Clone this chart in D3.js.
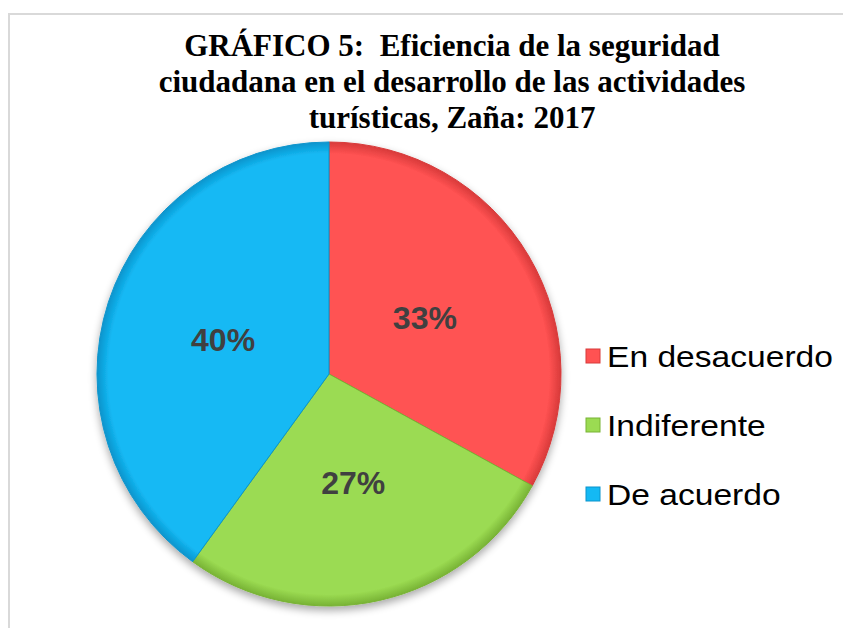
<!DOCTYPE html>
<html>
<head>
<meta charset="utf-8">
<script src="https://cdn.jsdelivr.net/npm/d3@7"></script>
<style>
  body { margin: 0; background: #fff; }
  svg { display: block; }
</style>
</head>
<body>
<div id="chart"></div>
<script>
// data
const categories = ["En desacuerdo", "Indiferente", "De acuerdo"];
const values = [33, 27, 40];
const colors = ["#FF5252", "#9BDB52", "#14B9F4"];
const darkColors = ["#D83A3A", "#78B335", "#0A94CC"];
const titleLines = [
    "GRÁFICO 5:\u00A0 Eficiencia de la seguridad",
    "ciudadana en el desarrollo de las actividades",
    "turísticas, Zaña: 2017"
];

const width = 843, height = 628;
const cx = 329, cy = 374, radius = 232;

const svg = d3.select("#chart").append("svg")
    .attr("width", width)
    .attr("height", height);

// chart frame (only top and left visible)
svg.append("rect")
    .attr("x", 9).attr("y", 14)
    .attr("width", 900).attr("height", 700)
    .attr("fill", "none")
    .attr("stroke", "#d9d9d9")
    .attr("stroke-width", 2);

const defs = svg.append("defs");

// soft shadow under the pie
const shadow = defs.append("filter").attr("id", "shadow")
    .attr("x", "-20%").attr("y", "-20%").attr("width", "140%").attr("height", "140%");
shadow.append("feGaussianBlur").attr("in", "SourceAlpha").attr("stdDeviation", 4);
shadow.append("feOffset").attr("dx", 0).attr("dy", 4).attr("result", "off");
shadow.append("feComponentTransfer").append("feFuncA").attr("type", "linear").attr("slope", 0.35);
const merge = shadow.append("feMerge");
merge.append("feMergeNode");
merge.append("feMergeNode").attr("in", "SourceGraphic");

// radial gradient per slice for slight bevel
colors.forEach((c, i) => {
    const g = defs.append("radialGradient")
        .attr("id", "grad" + i)
        .attr("gradientUnits", "userSpaceOnUse")
        .attr("cx", 0).attr("cy", 0).attr("r", radius);
    g.append("stop").attr("offset", "0%").attr("stop-color", c);
    g.append("stop").attr("offset", "95%").attr("stop-color", c);
    g.append("stop").attr("offset", "100%").attr("stop-color", darkColors[i]);
});

// title
const title = svg.append("text")
    .attr("text-anchor", "middle")
    .attr("font-family", "'Liberation Serif', 'Times New Roman', serif")
    .attr("font-weight", "bold")
    .attr("font-size", 31)
    .attr("fill", "#000");
titleLines.forEach((t, i) => {
    title.append("tspan")
        .attr("x", 452)
        .attr("y", 56 + i * 36)
        .text(t);
});

// pie
const pie = d3.pie().sort(null).value(d => d);
const arcs = pie(values);
const arc = d3.arc().innerRadius(0).outerRadius(radius);
const labelArc = d3.arc().innerRadius(radius * 0.48).outerRadius(radius * 0.48);

const pieG = svg.append("g")
    .attr("transform", `translate(${cx},${cy})`);

pieG.append("g")
    .attr("filter", "url(#shadow)")
    .selectAll("path")
    .data(arcs)
    .join("path")
    .attr("d", arc)
    .attr("fill", (d, i) => `url(#grad${i})`)
    .attr("stroke", (d, i) => darkColors[i])
    .attr("stroke-width", 1);

pieG.selectAll("text.pct")
    .data(arcs)
    .join("text")
    .attr("class", "pct")
    .attr("transform", d => `translate(${labelArc.centroid(d)})`)
    .attr("text-anchor", "middle")
    .attr("dy", "0.35em")
    .attr("font-family", "'Liberation Sans', Arial, sans-serif")
    .attr("font-weight", "bold")
    .attr("font-size", 32)
    .attr("fill", "#404040")
    .text(d => d.data + "%");

// legend
const legend = svg.append("g")
    .attr("transform", "translate(586, 356)");
const item = legend.selectAll("g")
    .data(categories)
    .join("g")
    .attr("transform", (d, i) => `translate(0, ${i * 69})`);
item.append("rect")
    .attr("x", 0).attr("y", -7)
    .attr("width", 14).attr("height", 14)
    .attr("fill", (d, i) => colors[i])
    .attr("stroke", (d, i) => darkColors[i])
    .attr("stroke-width", 1);
item.append("text")
    .attr("transform", "translate(21,0) scale(1.12,1)")
    .attr("dy", "0.35em")
    .attr("font-family", "'Liberation Sans', Arial, sans-serif")
    .attr("font-size", 30)
    .attr("fill", "#000")
    .text(d => d);
</script>
</body>
</html>
